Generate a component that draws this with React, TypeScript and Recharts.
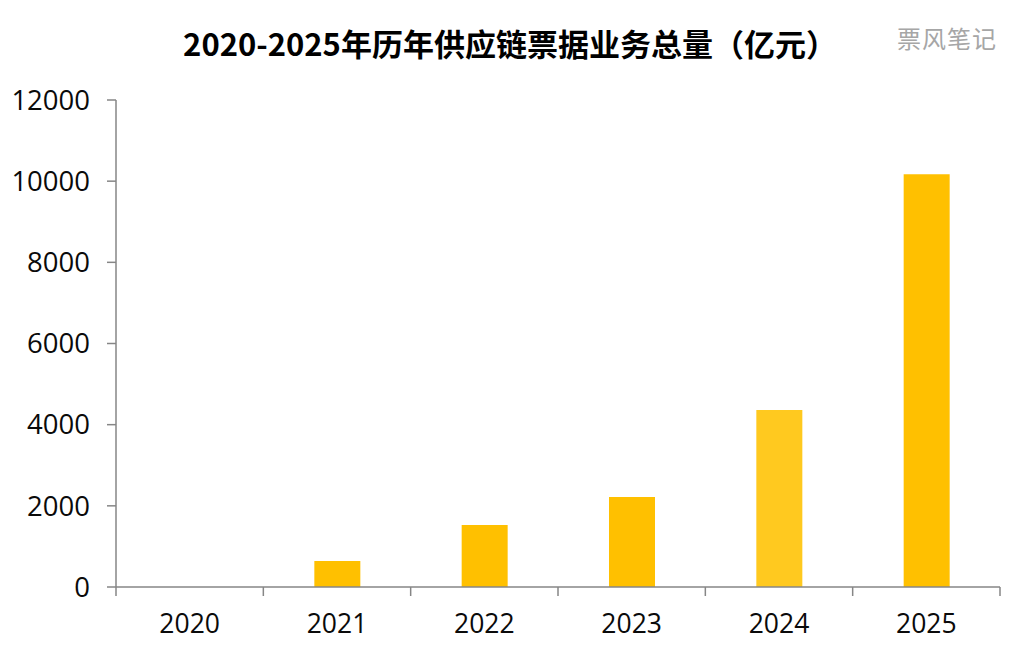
import { Bar, BarChart, Cell, XAxis, YAxis } from "recharts";

const years = ["2020", "2021", "2022", "2023", "2024", "2025"];
const totals = [0, 640, 1530, 2220, 4360, 10170];
const barColors = ["#FFC000", "#FFC000", "#FFC000", "#FFC000", "#FFC91F", "#FFC000"];
const yTicks = [0, 2000, 4000, 6000, 8000, 10000, 12000];

const data = years.map((year, i) => ({ year, total: totals[i] }));

const axisFont = "'Open Sans', 'Noto Sans', sans-serif";
const plotWidth = 884;
const band = plotWidth / years.length;

// tick marks sit on the band edges, not under the labels
function YearTick({ x, payload, index }: any) {
  const top = 587;
  return (
    <g>
      <line x1={x - band / 2} x2={x - band / 2} y1={top} y2={top + 9} stroke="#868686" strokeWidth={1.5} />
      {index === years.length - 1 && (
        <line x1={x + band / 2} x2={x + band / 2} y1={top} y2={top + 9} stroke="#868686" strokeWidth={1.5} />
      )}
      <text x={x} y={top + 46} textAnchor="middle" fontSize={26.5} fontFamily={axisFont} fill="#0a0a0a">
        {payload.value}
      </text>
    </g>
  );
}

export default function App() {
  return (
    <div style={{ position: "absolute", left: 0, top: 0, width: 1024, height: 653, background: "#fff" }}>
      <div
        style={{
          position: "absolute",
          left: 5,
          top: 21,
          width: 1010,
          textAlign: "center",
          fontFamily: "'Noto Sans CJK SC', sans-serif",
          fontWeight: 700,
          fontSize: 31,
          lineHeight: "44px",
          color: "#000",
        }}
      >
        2020-2025年历年供应链票据业务总量（亿元）
      </div>
      <div
        style={{
          position: "absolute",
          left: 897,
          top: 22,
          fontFamily: "'Noto Sans CJK SC', sans-serif",
          fontSize: 24,
          letterSpacing: 1,
          lineHeight: "32px",
          color: "#a6a6a6",
        }}
      >
        票风笔记
      </div>
      <BarChart
        width={1024}
        height={653}
        data={data}
        margin={{ top: 100, right: 24, bottom: 0, left: 0 }}
      >
        <XAxis
          dataKey="year"
          interval={0}
          height={66}
          stroke="#868686"
          strokeWidth={1.5}
          tickLine={false}
          tick={<YearTick />}
        />
        <YAxis
          width={116}
          domain={[0, 12000]}
          ticks={yTicks}
          interval={0}
          stroke="#868686"
          strokeWidth={1.5}
          tickLine={{ stroke: "#868686", strokeWidth: 1.5 }}
          tickSize={9}
          tickMargin={17}
          tick={{ fontSize: 27.5, fontFamily: axisFont, fill: "#0a0a0a" }}
        />
        <Bar dataKey="total" barSize={46} isAnimationActive={false}>
          {years.map((year, i) => (
            <Cell key={year} fill={barColors[i]} />
          ))}
        </Bar>
      </BarChart>
    </div>
  );
}
